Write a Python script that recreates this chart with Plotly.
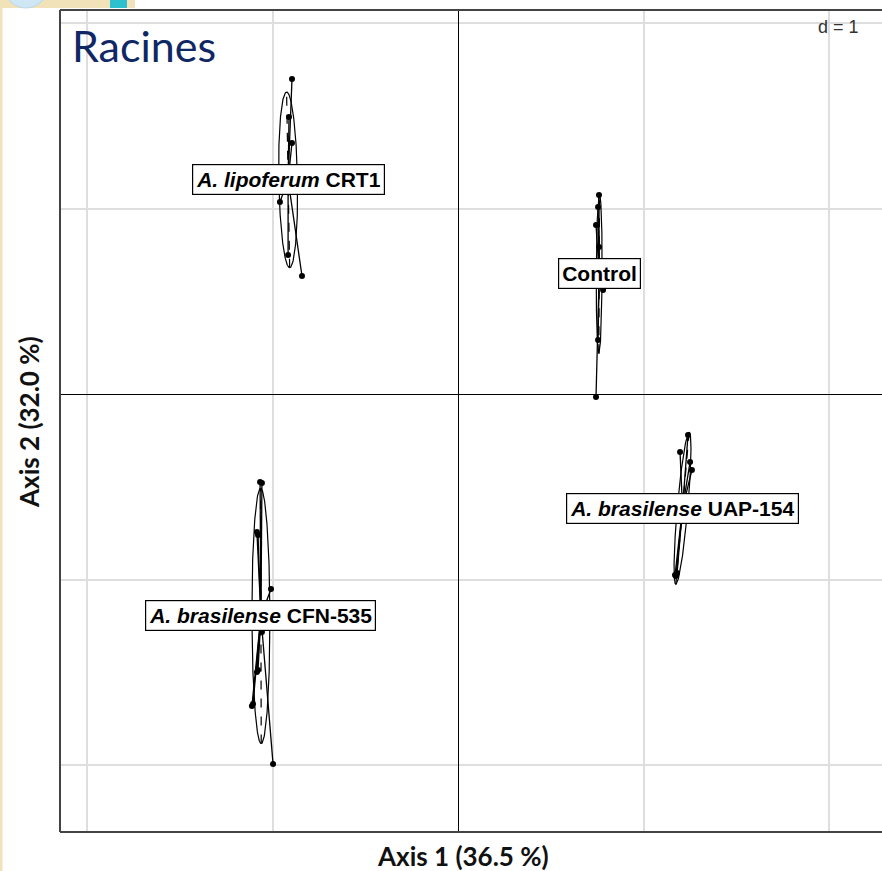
import numpy as np
import plotly.graph_objects as go

# ---- data (row scores on axes 1 and 2, grouped by treatment) ----
lipo_x = [-0.895, -0.911, -0.895, -0.960, -0.916, -0.841, -0.943, -0.938, -0.943]
lipo_y = [1.698, 1.493, 1.353, 1.035, 0.749, 0.636, 1.143, 1.137, 1.148]

ctrl_x = [0.760, 0.755, 0.744, 0.760, 0.782, 0.755, 0.744, 0.766, 0.771, 0.760, 0.766, 0.771]
ctrl_y = [1.073, 1.008, 0.911, 0.792, 0.561, 0.291, -0.016, 0.636, 0.625, 0.631, 0.620, 0.636]

uap_x = [1.240, 1.197, 1.251, 1.261, 1.197, 1.170, 1.181, 1.175, 1.213, 1.218]
uap_y = [-0.221, -0.313, -0.367, -0.410, -0.582, -0.976, -0.965, -0.981, -0.679, -0.668]

cfn_x = [-1.067, -1.057, -1.084, -1.078, -1.008, -1.057, -1.084, -1.111, -0.997, -1.078, -1.105, -1.046, -1.040]
cfn_y = [-0.474, -0.480, -0.744, -0.760, -1.051, -1.283, -1.499, -1.682, -1.995, -1.488, -1.671, -1.218, -1.208]

group_labels = ["<b><i>A. lipoferum</i> CRT1</b>", "<b>Control</b>",
                "<b><i>A. brasilense</i> UAP-154</b>", "<b><i>A. brasilense</i> CFN-535</b>"]
groups_x = [lipo_x, ctrl_x, uap_x, cfn_x]
groups_y = [lipo_y, ctrl_y, uap_y, cfn_y]

axis1_title = "Axis 1 (36.5 %)"
axis2_title = "Axis 2 (32.0 %)"
panel_title = "Racines"
grid_label = "d = 1"
cellipse = 1.5

# ---- geometry (pixels) ----
W, H = 882, 871
L, R, T, B = 60, 0, 10, 39
PW, PH = W - L - R, H - T - B


def px_x(p):
    return (p - L) / PW


def px_y(p):
    return (H - B - p) / PH


fig = go.Figure()

annotations = []
for gx, gy, lab in zip(groups_x, groups_y, group_labels):
    x = np.array(gx)
    y = np.array(gy)
    mx, my = x.mean(), y.mean()
    cov = np.array([[np.mean((x - mx) ** 2), np.mean((x - mx) * (y - my))],
                    [np.mean((x - mx) * (y - my)), np.mean((y - my) ** 2)]])
    vals, vecs = np.linalg.eigh(cov)
    a = cellipse * np.sqrt(vals)
    t = np.linspace(0, 2 * np.pi, 241)
    ex = mx + a[0] * np.cos(t) * vecs[0, 0] + a[1] * np.sin(t) * vecs[0, 1]
    ey = my + a[0] * np.cos(t) * vecs[1, 0] + a[1] * np.sin(t) * vecs[1, 1]
    # star segments
    sx, sy = [], []
    for xi, yi in zip(x, y):
        sx += [mx, xi, None]
        sy += [my, yi, None]
    fig.add_trace(go.Scatter(x=sx, y=sy, mode="lines",
                             line=dict(color="black", width=1.3), hoverinfo="skip", showlegend=False))
    # ellipse
    fig.add_trace(go.Scatter(x=ex, y=ey, mode="lines",
                             line=dict(color="black", width=1.2), hoverinfo="skip", showlegend=False))
    # ellipse axes
    axx, axy = [], []
    for k in range(2):
        axx += [mx - a[k] * vecs[0, k], mx + a[k] * vecs[0, k], None]
        axy += [my - a[k] * vecs[1, k], my + a[k] * vecs[1, k], None]
    fig.add_trace(go.Scatter(x=axx, y=axy, mode="lines",
                             line=dict(color="black", width=1.2, dash="dash"),
                             hoverinfo="skip", showlegend=False))
    # points
    fig.add_trace(go.Scatter(x=x, y=y, mode="markers",
                             marker=dict(color="black", size=6), showlegend=False))
    annotations.append(dict(x=mx, y=my, xref="x", yref="y", text=lab, showarrow=False,
                            font=dict(family="Liberation Sans, Arial", size=21, color="black"),
                            bgcolor="white", bordercolor="black", borderwidth=1.2, borderpad=3,
                            xanchor="center", yanchor="middle"))

annotations += [
    dict(x=px_x(70), y=px_y(46), xref="paper", yref="paper", text=panel_title, showarrow=False,
         xanchor="left", yanchor="middle", font=dict(family="Lato", size=43, color="#102766")),
    dict(x=px_x(861), y=px_y(27), xref="paper", yref="paper", text=grid_label, showarrow=False,
         xanchor="right", yanchor="middle", font=dict(family="Liberation Sans, Arial", size=18, color="#333333")),
    dict(x=px_x(463), y=px_y(856), xref="paper", yref="paper", text="<b>" + axis1_title + "</b>",
         showarrow=False, xanchor="center", yanchor="middle",
         font=dict(family="Lato", size=26, color="#111111")),
    dict(x=px_x(29), y=px_y(422), xref="paper", yref="paper", text="<b>" + axis2_title + "</b>",
         showarrow=False, xanchor="center", yanchor="middle", textangle=-90,
         font=dict(family="Lato", size=26, color="#111111")),
]

frame = "#444444"
shapes = [
    # slide decorations
    dict(type="rect", xref="paper", yref="paper", x0=px_x(0), x1=px_x(2.5), y0=px_y(871), y1=px_y(0),
         fillcolor="#f1e2b9", line=dict(width=0), layer="below"),
    dict(type="rect", xref="paper", yref="paper", x0=px_x(0), x1=px_x(135), y0=px_y(8), y1=px_y(0),
         fillcolor="#f1e2b9", line=dict(width=0), layer="below"),
    dict(type="circle", xref="paper", yref="paper", x0=px_x(4), x1=px_x(48), y0=px_y(8), y1=px_y(-36),
         fillcolor="#cfe6f4", line=dict(color="#b9d6ea", width=1), layer="below"),
    dict(type="rect", xref="paper", yref="paper", x0=px_x(110), x1=px_x(127), y0=px_y(8), y1=px_y(0),
         fillcolor="#2fc0cf", line=dict(width=0), layer="below"),
    # frame
    dict(type="line", xref="paper", yref="paper", x0=0, x1=0, y0=0, y1=1, line=dict(color=frame, width=2)),
    dict(type="line", xref="paper", yref="paper", x0=0, x1=1.05, y0=1, y1=1, line=dict(color=frame, width=2)),
    dict(type="line", xref="paper", yref="paper", x0=0, x1=1.05, y0=0, y1=0, line=dict(color=frame, width=2)),
]

px_per_unit = 185.5
x_range = [(L - 458) / px_per_unit, (W - R - 458) / px_per_unit]
y_range = [(394 - (H - B)) / px_per_unit, (394 - T) / px_per_unit]

axis_common = dict(showgrid=True, gridcolor="#dedede", gridwidth=2, dtick=1, tick0=0,
                   zeroline=True, zerolinecolor="black", zerolinewidth=1.2,
                   showticklabels=False, ticks="", showline=False, fixedrange=True)

fig.update_layout(
    width=W, height=H,
    margin=dict(l=L, r=R, t=T, b=B, pad=0),
    paper_bgcolor="white", plot_bgcolor="white",
    xaxis=dict(range=x_range, **axis_common),
    yaxis=dict(range=y_range, **axis_common),
    annotations=annotations, shapes=shapes, showlegend=False,
)

fig.write_html("out.html", config={"displayModeBar": False},
               post_script="document.body.style.margin='0';document.body.style.overflow='hidden';")
